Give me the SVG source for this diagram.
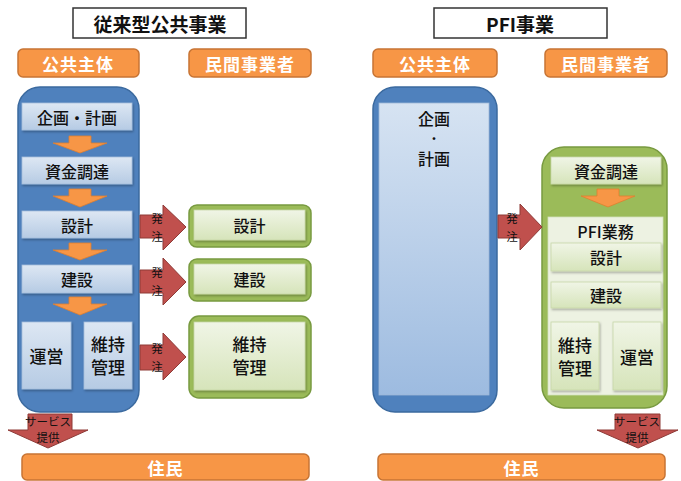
<svg xmlns="http://www.w3.org/2000/svg" width="681" height="481" viewBox="0 0 681 481">
<style>
text{font-family:"Noto Sans CJK JP","Noto Sans",sans-serif;text-anchor:middle;dominant-baseline:central;fill:#111}
.title{font-size:19px;font-weight:700}
.hdr{font-size:17px;font-weight:700;fill:#fff;letter-spacing:1px}
.box{font-size:16px;font-weight:500}
.big{font-size:17px;font-weight:500}
.dot{font-size:12px;font-weight:500}
.sm{font-size:11.5px}
.xs{font-size:11.5px}
.tbox{fill:#fff;stroke:#333;stroke-width:1.5}
.org{fill:#F79646;stroke:#C77434;stroke-width:1.5}
.blue{fill:#4F81BD;stroke:#3B6A9F;stroke-width:1.5}
.green{fill:#9BBB59;stroke:#789A40;stroke-width:1.5}
.lb{fill:url(#gb);stroke:#A6BFDC;stroke-width:0.8;filter:url(#sh)}
.lg{fill:url(#gg);stroke:#C7D8A8;stroke-width:0.8;filter:url(#sh)}
.oa{fill:#F79646;stroke:#E07F2E;stroke-width:0.8}
.ra{fill:#C0504D;stroke:#8E3A37;stroke-width:1}
</style>
<defs>
<linearGradient id="gb" x1="0" y1="0" x2="0" y2="1"><stop offset="0" stop-color="#DDE7F3"/><stop offset="1" stop-color="#B6CBE4"/></linearGradient>
<linearGradient id="gbt" x1="0" y1="0" x2="0" y2="1"><stop offset="0" stop-color="#D6E3F2"/><stop offset="1" stop-color="#9DBBE0"/></linearGradient>
<linearGradient id="gg" x1="0" y1="0" x2="0" y2="1"><stop offset="0" stop-color="#F0F5E6"/><stop offset="1" stop-color="#D6E4BA"/></linearGradient>
<filter id="sh" x="-10%" y="-10%" width="130%" height="140%"><feDropShadow dx="1" dy="1.5" stdDeviation="1" flood-color="#000" flood-opacity="0.3"/></filter>
</defs>

<g id="title-left"><rect class="tbox" x="73" y="8" width="173" height="30"/><text class="title" x="160" y="23">従来型公共事業</text></g>
<g id="title-right"><rect class="tbox" x="434" y="8" width="173" height="30"/><text class="title" x="520" y="23">PFI事業</text></g>

<g id="hdr-public-left"><rect class="org" x="18" y="49" width="121" height="28" rx="5"/><text class="hdr" x="78" y="63">公共主体</text></g>
<g id="hdr-private-left"><rect class="org" x="189" y="49" width="122" height="28" rx="5"/><text class="hdr" x="250" y="63">民間事業者</text></g>
<g id="hdr-public-right"><rect class="org" x="373" y="49" width="124" height="28" rx="5"/><text class="hdr" x="435" y="63">公共主体</text></g>
<g id="hdr-private-right"><rect class="org" x="545" y="49" width="122" height="28" rx="5"/><text class="hdr" x="606" y="63">民間事業者</text></g>

<g id="public-left"><rect class="blue" x="18" y="87" width="121" height="325" rx="22"/></g>
<g id="l-plan"><rect class="lb" x="22" y="103" width="110" height="27"/><text class="box" x="77" y="116.5">企画・計画</text></g>
<g id="l-fund"><rect class="lb" x="22" y="157" width="110" height="27"/><text class="box" x="77" y="170.5">資金調達</text></g>
<g id="l-design"><rect class="lb" x="22" y="211" width="110" height="27"/><text class="box" x="77" y="224.5">設計</text></g>
<g id="l-build"><rect class="lb" x="22" y="265" width="110" height="28"/><text class="box" x="77" y="279">建設</text></g>
<g id="l-operate"><rect class="lb" x="22" y="322" width="49" height="67"/><text class="big" x="46.5" y="355.5">運営</text></g>
<g id="l-maint"><rect class="lb" x="84" y="322" width="48" height="67"/><text class="big" x="108" y="343">維持</text><text class="big" x="108" y="366">管理</text></g>

<g id="p-design"><rect class="green" x="189" y="205" width="122" height="42" rx="8"/><rect class="lg" x="194" y="210" width="111" height="30"/><text class="box" x="249.5" y="225">設計</text></g>
<g id="p-build"><rect class="green" x="189" y="259" width="122" height="42" rx="8"/><rect class="lg" x="194" y="264" width="111" height="30"/><text class="box" x="249.5" y="279">建設</text></g>
<g id="p-maint"><rect class="green" x="189" y="316" width="122" height="82" rx="10"/><rect class="lg" x="194" y="322" width="111" height="68"/><text class="big" x="249.5" y="343.5">維持</text><text class="big" x="249.5" y="366.5">管理</text></g>

<g id="public-right"><rect class="blue" x="373" y="87" width="124" height="325" rx="22"/><rect fill="url(#gbt)" stroke="#9DB7D8" stroke-width="0.8" x="379" y="103" width="110" height="292"/><text class="box" x="434" y="118">企画</text><text class="dot" x="434" y="138">・</text><text class="box" x="434" y="158">計画</text></g>

<g id="private-right"><rect class="green" x="542" y="147" width="125" height="261" rx="22"/></g>
<g id="r-fund"><rect class="lg" x="551" y="157" width="110" height="27"/><text class="box" x="606" y="170.5">資金調達</text></g>
<g id="r-pfi"><rect fill="#EDF2E2" stroke="#D3E0BC" stroke-width="0.8" x="548" y="217" width="115" height="178"/><text class="box" x="605.5" y="231">PFI業務</text></g>
<g id="r-design"><rect class="lg" x="551" y="243" width="110" height="28"/><text class="box" x="606" y="257">設計</text></g>
<g id="r-build"><rect class="lg" x="551" y="282" width="110" height="26"/><text class="box" x="606" y="295">建設</text></g>
<g id="r-maint"><rect class="lg" x="551" y="322" width="48" height="68"/><text class="big" x="575" y="344">維持</text><text class="big" x="575" y="367">管理</text></g>
<g id="r-operate"><rect class="lg" x="613" y="322" width="48" height="68"/><text class="big" x="637" y="356">運営</text></g>

<g id="residents-left"><rect class="org" x="22" y="454" width="287" height="26" rx="5"/><text class="hdr" x="165.5" y="467">住民</text></g>
<g id="residents-right"><rect class="org" x="378" y="454" width="287" height="26" rx="5"/><text class="hdr" x="521.5" y="467">住民</text></g>

<g id="connectors">
<polygon class="oa" points="69,136 91,136 91,143 107,143 80,153 53,143 69,143"/>
<polygon class="oa" points="69,189 91,189 91,196 107,196 80,207 53,196 69,196"/>
<polygon class="oa" points="69,243 91,243 91,250 107,250 80,260 53,250 69,250"/>
<polygon class="oa" points="69,297 91,297 91,304 107,304 80,315 53,304 69,304"/>
<polygon class="oa" points="597,189 619,189 619,196 635,196 608,207 581,196 597,196"/>

<polygon class="ra" points="140,215 163,215 163,205 186,227 163,250 163,238 140,238"/>
<text class="sm" x="157" y="218">発</text><text class="sm" x="157" y="236">注</text>
<polygon class="ra" points="140,270 163,270 163,258 186,282 163,305 163,293 140,293"/>
<text class="sm" x="157" y="272">発</text><text class="sm" x="157" y="290">注</text>
<polygon class="ra" points="140,345 163,345 163,333 186,357 163,380 163,370 140,370"/>
<text class="sm" x="157" y="348">発</text><text class="sm" x="157" y="366">注</text>
<polygon class="ra" points="498,215 520,215 520,204 542,227 520,250 520,238 498,238"/>
<text class="sm" x="512" y="218">発</text><text class="sm" x="512" y="236">注</text>

<polygon class="ra" points="28,414 72,414 72,430 88,430 48,448 8,430 28,430"/>
<text class="xs" x="48" y="421">サービス</text><text class="xs" x="48" y="437">提供</text>
<polygon class="ra" points="615,414 660,414 660,430 678,430 638,448 597,430 615,430"/>
<text class="xs" x="637" y="421">サービス</text><text class="xs" x="637" y="437">提供</text>
</g>
</svg>
